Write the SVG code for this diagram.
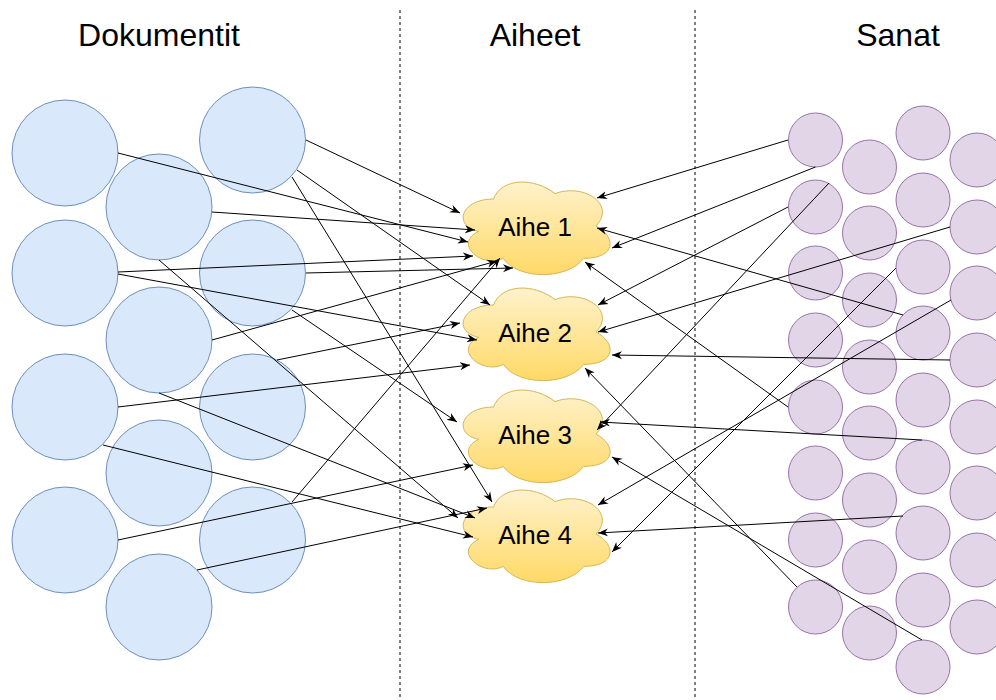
<svg xmlns="http://www.w3.org/2000/svg" xmlns:xlink="http://www.w3.org/1999/xlink" width="996" height="700" viewBox="0 0 996 700">
<style>
.doc{fill:#dae8fc;stroke:#6c8ebf;stroke-width:1}
.word{fill:#e1d5e7;stroke:#9673a6;stroke-width:1}
.topic{fill:url(#cg);stroke:#d6b656;stroke-width:1}
.hdr{font-family:"Liberation Sans",Arial,sans-serif;font-size:32px;fill:#000;text-anchor:middle}
.lbl{font-family:"Liberation Sans",Arial,sans-serif;font-size:26px;fill:#000;text-anchor:middle}
.sep{stroke:#000;stroke-width:1;stroke-dasharray:3 3;fill:none}
.e{stroke:#000;stroke-width:1;fill:none;marker-end:url(#arr)}
</style>
<defs>
<linearGradient id="cg" x1="0" y1="0" x2="0" y2="1">
<stop offset="0" stop-color="#fff2cc"/>
<stop offset="1" stop-color="#ffd966"/>
</linearGradient>
<path id="cloud" d="M41,27 C8.2,27 0,54 26.24,59.4 C0,71.28 29.52,97.2 50.84,86.4 C65.6,108 114.8,108 131.2,86.4 C164,86.4 164,64.8 143.5,54 C164,32.4 131.2,10.8 102.5,21.6 C82,5.4 49.2,5.4 41,27 Z"/>
<marker id="arr" viewBox="0 0 10 10" refX="10" refY="5" markerWidth="10" markerHeight="10" markerUnits="userSpaceOnUse" orient="auto">
<path d="M0,1 L10,5 L0,9 L3,5 Z" fill="#000"/>
</marker>
</defs>
<rect width="996" height="700" fill="#fff"/>
<g id="separators">
<line class="sep" x1="400" y1="10" x2="400" y2="700"/>
<line class="sep" x1="695" y1="10" x2="695" y2="700"/>
</g>
<g id="headers">
<text class="hdr" x="159" y="46">Dokumentit</text>
<text class="hdr" x="535" y="46">Aiheet</text>
<text class="hdr" x="898" y="46">Sanat</text>
</g>
<g id="documents">
<g id="docA"><circle class="doc" cx="65" cy="153" r="53"/></g>
<g id="docB"><circle class="doc" cx="252.5" cy="140" r="53"/></g>
<g id="docC"><circle class="doc" cx="159" cy="207" r="53"/></g>
<g id="docD"><circle class="doc" cx="65" cy="273" r="53"/></g>
<g id="docE"><circle class="doc" cx="252.5" cy="273" r="53"/></g>
<g id="docF"><circle class="doc" cx="159" cy="340" r="53"/></g>
<g id="docG"><circle class="doc" cx="65" cy="407" r="53"/></g>
<g id="docH"><circle class="doc" cx="252.5" cy="407" r="53"/></g>
<g id="docI"><circle class="doc" cx="159" cy="473" r="53"/></g>
<g id="docJ"><circle class="doc" cx="65" cy="540" r="53"/></g>
<g id="docK"><circle class="doc" cx="252.5" cy="540" r="53"/></g>
<g id="docL"><circle class="doc" cx="159" cy="607" r="53"/></g>
</g>
<g id="words">
<g id="w1-1"><circle class="word" cx="815.5" cy="140" r="27"/></g>
<g id="w1-2"><circle class="word" cx="815.5" cy="207" r="27"/></g>
<g id="w1-3"><circle class="word" cx="815.5" cy="273" r="27"/></g>
<g id="w1-4"><circle class="word" cx="815.5" cy="340" r="27"/></g>
<g id="w1-5"><circle class="word" cx="815.5" cy="407" r="27"/></g>
<g id="w1-6"><circle class="word" cx="815.5" cy="473" r="27"/></g>
<g id="w1-7"><circle class="word" cx="815.5" cy="540" r="27"/></g>
<g id="w1-8"><circle class="word" cx="815.5" cy="607" r="27"/></g>
<g id="w2-1"><circle class="word" cx="869.5" cy="167" r="27"/></g>
<g id="w2-2"><circle class="word" cx="869.5" cy="233" r="27"/></g>
<g id="w2-3"><circle class="word" cx="869.5" cy="300" r="27"/></g>
<g id="w2-4"><circle class="word" cx="869.5" cy="367" r="27"/></g>
<g id="w2-5"><circle class="word" cx="869.5" cy="433" r="27"/></g>
<g id="w2-6"><circle class="word" cx="869.5" cy="500" r="27"/></g>
<g id="w2-7"><circle class="word" cx="869.5" cy="567" r="27"/></g>
<g id="w2-8"><circle class="word" cx="869.5" cy="633" r="27"/></g>
<g id="w3-1"><circle class="word" cx="923" cy="133" r="27"/></g>
<g id="w3-2"><circle class="word" cx="923" cy="200" r="27"/></g>
<g id="w3-3"><circle class="word" cx="923" cy="267" r="27"/></g>
<g id="w3-4"><circle class="word" cx="923" cy="333" r="27"/></g>
<g id="w3-5"><circle class="word" cx="923" cy="400" r="27"/></g>
<g id="w3-6"><circle class="word" cx="923" cy="467" r="27"/></g>
<g id="w3-7"><circle class="word" cx="923" cy="533" r="27"/></g>
<g id="w3-8"><circle class="word" cx="923" cy="600" r="27"/></g>
<g id="w3-9"><circle class="word" cx="923" cy="667" r="27"/></g>
<g id="w4-1"><circle class="word" cx="977" cy="160" r="27"/></g>
<g id="w4-2"><circle class="word" cx="977" cy="227" r="27"/></g>
<g id="w4-3"><circle class="word" cx="977" cy="293" r="27"/></g>
<g id="w4-4"><circle class="word" cx="977" cy="360" r="27"/></g>
<g id="w4-5"><circle class="word" cx="977" cy="427" r="27"/></g>
<g id="w4-6"><circle class="word" cx="977" cy="493" r="27"/></g>
<g id="w4-7"><circle class="word" cx="977" cy="560" r="27"/></g>
<g id="w4-8"><circle class="word" cx="977" cy="627" r="27"/></g>
</g>
<g id="topics">
<g id="topic1"><use xlink:href="#cloud" class="topic" x="452.5" y="172"/><text class="lbl" x="535" y="236">Aihe 1</text></g>
<g id="topic2"><use xlink:href="#cloud" class="topic" x="452.5" y="278"/><text class="lbl" x="535" y="342">Aihe 2</text></g>
<g id="topic3"><use xlink:href="#cloud" class="topic" x="452.5" y="380"/><text class="lbl" x="535" y="444">Aihe 3</text></g>
<g id="topic4"><use xlink:href="#cloud" class="topic" x="452.5" y="480"/><text class="lbl" x="535" y="544">Aihe 4</text></g>
</g>
<g id="connectors">
<line class="e" x1="118" y1="153" x2="468" y2="242"/>
<line class="e" x1="306" y1="140" x2="460" y2="213"/>
<line class="e" x1="212" y1="212" x2="475" y2="230"/>
<line class="e" x1="118" y1="272" x2="473" y2="256"/>
<line class="e" x1="118" y1="274" x2="477" y2="340"/>
<line class="e" x1="306" y1="273" x2="513" y2="268"/>
<line class="e" x1="212" y1="340" x2="497" y2="261"/>
<line class="e" x1="159" y1="260" x2="458" y2="518"/>
<line class="e" x1="297" y1="170" x2="490" y2="305"/>
<line class="e" x1="292" y1="310" x2="457" y2="422"/>
<line class="e" x1="118" y1="407" x2="470" y2="365"/>
<line class="e" x1="159" y1="393" x2="475" y2="518"/>
<line class="e" x1="103" y1="445" x2="473" y2="537"/>
<line class="e" x1="118" y1="540" x2="473" y2="465"/>
<line class="e" x1="197" y1="570" x2="487" y2="508"/>
<line class="e" x1="292" y1="502" x2="500" y2="258"/>
<line class="e" x1="277" y1="360" x2="460" y2="323"/>
<line class="e" x1="292" y1="177" x2="492" y2="502"/>
<line class="e" x1="788" y1="140" x2="597" y2="198"/>
<line class="e" x1="815.5" y1="167" x2="612" y2="248"/>
<line class="e" x1="903" y1="315" x2="597" y2="228"/>
<line class="e" x1="788" y1="407" x2="585" y2="262"/>
<line class="e" x1="788" y1="207" x2="598" y2="305"/>
<line class="e" x1="950" y1="227" x2="598" y2="332"/>
<line class="e" x1="950" y1="360" x2="612" y2="355"/>
<line class="e" x1="797" y1="587" x2="585" y2="368"/>
<line class="e" x1="829" y1="183" x2="597" y2="430"/>
<line class="e" x1="922" y1="440" x2="600" y2="422"/>
<line class="e" x1="922" y1="640" x2="612" y2="457"/>
<line class="e" x1="951" y1="300" x2="598" y2="505"/>
<line class="e" x1="903" y1="516" x2="598" y2="533"/>
<line class="e" x1="896" y1="268" x2="612" y2="552"/>
</g>
</svg>
